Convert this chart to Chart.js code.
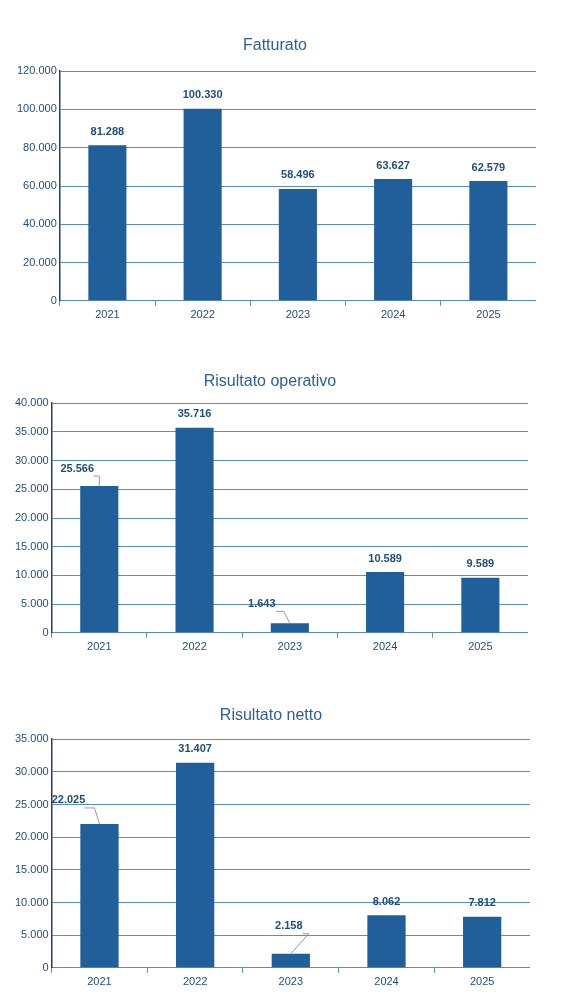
<!DOCTYPE html>
<html><head><meta charset="utf-8">
<script src="https://cdn.jsdelivr.net/npm/chart.js@4"></script>
<style>body{margin:0;background:#fff;width:579px;height:1006px;position:relative;overflow:hidden}
.c{position:absolute;left:0}</style></head><body>
<div class="c" style="top:36px;height:289px;width:536px"><canvas id="c1"></canvas></div>
<div class="c" style="top:372px;height:285px;width:528px"><canvas id="c2"></canvas></div>
<div class="c" style="top:706px;height:286px;width:530px"><canvas id="c3"></canvas></div>
<script>
const years=["2021","2022","2023","2024","2025"];
const fatturato=[81288,100330,58496,63627,62579];
const operativo=[25566,35716,1643,10589,9589];
const netto=[22025,31407,2158,8062,7812];
const titles=["Fatturato","Risultato operativo","Risultato netto"];
const fmt=v=>String(Math.round(v)).replace(/\B(?=(\d{3})+(?!\d))/g,".");
const blue="#215F9A", txt="#1F4E79", grid="#5B8BC5";
const labelPlugin={id:"lbl",afterDatasetsDraw(ch,a,opts){
  const c=ch.ctx,meta=ch.getDatasetMeta(0),d=ch.data.datasets[0].data,offs=opts.offsets||[];
  c.save();c.font="bold 11px 'Liberation Sans', Arial";c.fillStyle=txt;c.textAlign="center";c.textBaseline="bottom";
  meta.data.forEach((b,i)=>{const o=offs[i];
    if(o){const lx=b.x+o[0],ly=b.y+o[1];
      c.strokeStyle="#999";c.lineWidth=1;c.beginPath();c.moveTo(lx+o[2],ly+2);c.lineTo(lx+o[2]+o[3],ly+2);c.lineTo(b.x,b.y);c.stroke();
      c.fillText(fmt(d[i]),lx,ly);}
    else c.fillText(fmt(d[i]),b.x,b.y-8);});
  c.restore();}};
function make(id,data,title,max,step,offs,padL,padT){
 new Chart(document.getElementById(id),{type:"bar",
  data:{labels:years,datasets:[{data:data,backgroundColor:blue,categoryPercentage:0.4,barPercentage:1}]},
  options:{responsive:true,maintainAspectRatio:false,animation:false,
   layout:{padding:{left:padL,right:0,top:0,bottom:0}},
   plugins:{legend:{display:false},tooltip:{enabled:false},lbl:{offsets:offs},
    title:{display:true,text:title,color:"#2E6096",font:{size:16,family:"'Liberation Sans', Arial",weight:"normal"},padding:{top:0,bottom:padT}}},
   scales:{x:{grid:{offset:true,drawOnChartArea:false,color:grid,tickLength:5},border:{color:grid},
      ticks:{color:txt,font:{size:11,family:"'Liberation Sans', Arial"}}},
    y:{min:0,max:max,ticks:{stepSize:step,color:txt,font:{size:11,family:"'Liberation Sans', Arial"},callback:v=>fmt(v)},
      grid:{color:grid,tickLength:4,drawTicks:false},border:{color:"#1F3F6F",width:1.5}}}},
  plugins:[labelPlugin]});}
make("c1",fatturato,titles[0],120000,20000,[],14,16);
make("c2",operativo,titles[1],40000,5000,[[-22,-12,16,6],null,[-28,-14,14,8],null,null],12,12);
make("c3",netto,titles[2],35000,5000,[[-31,-18,16,10],null,[-2,-22,14,6],null,null],12,14);
</script></body></html>
